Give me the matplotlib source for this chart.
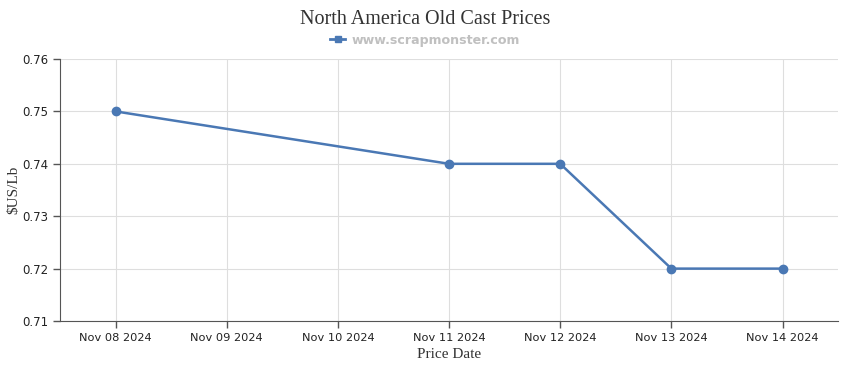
import matplotlib.pyplot as plt
from matplotlib.lines import Line2D

categories = ['Nov 08 2024', 'Nov 09 2024', 'Nov 10 2024', 'Nov 11 2024',
              'Nov 12 2024', 'Nov 13 2024', 'Nov 14 2024']
price_dates = ['Nov 08 2024', 'Nov 11 2024', 'Nov 12 2024', 'Nov 13 2024', 'Nov 14 2024']
prices = [0.75, 0.74, 0.74, 0.72, 0.72]
y_ticks = [0.71, 0.72, 0.73, 0.74, 0.75, 0.76]

line_color = '#4a78b4'

fig = plt.figure(figsize=(8.5, 3.7), dpi=100)
ax = fig.add_axes([0.0706, 0.1324, 0.9154, 0.7081])

x = [categories.index(d) for d in price_dates]
ax.plot(x, prices, color=line_color, linewidth=1.8, marker='o', markersize=6,
        zorder=3)

ax.set_xlim(-0.5, len(categories) - 0.5)
ax.set_ylim(y_ticks[0], y_ticks[-1])
ax.set_xticks(range(len(categories)))
ax.set_xticklabels(categories, fontsize=8.2, family='DejaVu Sans', color='#222222')
ax.set_yticks(y_ticks)
ax.set_yticklabels([f'{v:.2f}' for v in y_ticks], fontsize=8.5,
                   family='DejaVu Sans', color='#222222')

ax.grid(True, color='#dedede', linewidth=0.8)
ax.set_axisbelow(True)
for s in ['top', 'right']:
    ax.spines[s].set_visible(False)
for s in ['left', 'bottom']:
    ax.spines[s].set_color('#555555')
ax.tick_params(axis='both', length=5, color='#555555', width=1)

ax.set_xlabel('Price Date', family='Liberation Serif', fontsize=11,
              color='#333333', labelpad=4)
ax.set_ylabel('$US/Lb', family='Liberation Serif', fontsize=11,
              color='#333333', labelpad=1)

fig.text(0.5, 0.948, 'North America Old Cast Prices', ha='center', va='center',
         family='Liberation Serif', fontsize=14.5, color='#333333')

handle = Line2D([], [], color=line_color, linewidth=2, marker='s', markersize=5)
leg = fig.legend([handle], ['www.scrapmonster.com'], loc='center',
                 bbox_to_anchor=(0.5, 0.891), frameon=False, handlelength=1.2,
                 handletextpad=0.5, prop={'family': 'DejaVu Sans', 'size': 9.1,
                                          'weight': 'bold'})
for t in leg.get_texts():
    t.set_color('#c0c0c0')

fig.savefig('out.png', dpi=100)
